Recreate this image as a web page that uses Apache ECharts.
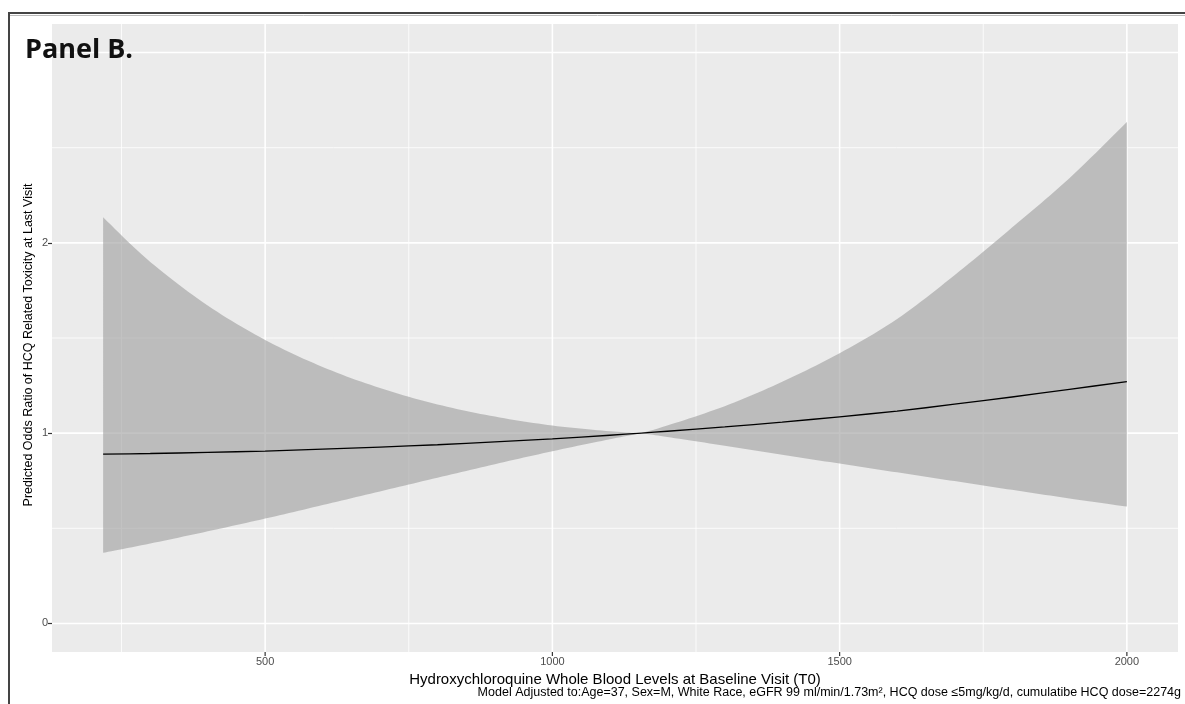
<!DOCTYPE html>
<html>
<head>
<meta charset="utf-8">
<script src="https://cdn.jsdelivr.net/npm/echarts@6/dist/echarts.min.js"></script>
<style>
  html, body { margin: 0; padding: 0; background: #ffffff; }
  #chart { width: 1185px; height: 704px; }
</style>
</head>
<body>
<div id="chart"></div>
<script>
// ---- data ----
const hcqLevel = [218, 300, 400, 500, 600, 700, 800, 900, 1000, 1100, 1155, 1200, 1300, 1400, 1500, 1600, 1700, 1800, 1900, 2000];
const oddsRatio = [0.890, 0.893, 0.899, 0.906, 0.916, 0.927, 0.939, 0.954, 0.970, 0.989, 1.000, 1.010, 1.033, 1.058, 1.086, 1.116, 1.152, 1.190, 1.230, 1.271];
const ciLower = [0.371, 0.420, 0.484, 0.551, 0.622, 0.694, 0.766, 0.837, 0.905, 0.968, 1.000, 0.980, 0.934, 0.887, 0.840, 0.794, 0.748, 0.702, 0.657, 0.614];
const ciUpper = [2.134, 1.900, 1.671, 1.490, 1.348, 1.237, 1.151, 1.087, 1.040, 1.010, 1.000, 1.040, 1.142, 1.270, 1.420, 1.600, 1.830, 2.080, 2.340, 2.635];
const pinchIndex = 10; // reference point where the interval collapses (OR = 1)

const xMajorTicks = [500, 1000, 1500, 2000];
const xMinorTicks = [250, 750, 1250, 1750];
const yMajorTicks = [0, 1, 2, 3];
const yLabelTicks = [0, 1, 2];
const yMinorTicks = [0.5, 1.5, 2.5];

const xRange = [129, 2089];
const yRange = [-0.15, 3.15];

const titleText = 'Panel B.';
const xAxisTitle = 'Hydroxychloroquine Whole Blood Levels at Baseline Visit (T0)';
const yAxisTitle = 'Predicted Odds Ratio of HCQ Related Toxicity at Last Visit';
const captionText = 'Model Adjusted to:Age=37, Sex=M, White Race, eGFR 99 ml/min/1.73m\u00B2, HCQ dose \u22645mg/kg/d, cumulatibe HCQ dose=2274g';

// ---- build series ----
const lineData = hcqLevel.map((x, i) => [x, oddsRatio[i]]);
const bandData = hcqLevel.map((x, i) => [x, ciLower[i], ciUpper[i]]);

const gridSeries = [];
function addGridLine(isVertical, v, width) {
  gridSeries.push({
    type: 'line',
    silent: true,
    symbol: 'none',
    z: 1,
    animation: false,
    lineStyle: { color: '#ffffff', width: width },
    data: isVertical ? [[v, yRange[0]], [v, yRange[1]]] : [[xRange[0], v], [xRange[1], v]]
  });
}
xMinorTicks.forEach(v => addGridLine(true, v, 0.8));
yMinorTicks.forEach(v => addGridLine(false, v, 0.8));
xMajorTicks.forEach(v => addGridLine(true, v, 1.6));
yMajorTicks.forEach(v => addGridLine(false, v, 1.6));

const chart = echarts.init(document.getElementById('chart'), null, { renderer: 'canvas' });
const labelFont = 'Liberation Sans, Arial, sans-serif';

// Catmull-Rom smoothing of pixel points (rendering only)
function smoothPixels(pts) {
  const out = [];
  const n = pts.length;
  for (let i = 0; i < n - 1; i++) {
    const p0 = pts[Math.max(i - 1, 0)], p1 = pts[i], p2 = pts[i + 1], p3 = pts[Math.min(i + 2, n - 1)];
    const c1 = [p1[0] + (p2[0] - p0[0]) / 6, p1[1] + (p2[1] - p0[1]) / 6];
    const c2 = [p2[0] - (p3[0] - p1[0]) / 6, p2[1] - (p3[1] - p1[1]) / 6];
    const steps = 12;
    for (let s = 0; s < steps; s++) {
      const t = s / steps, u = 1 - t;
      out.push([
        u * u * u * p1[0] + 3 * u * u * t * c1[0] + 3 * u * t * t * c2[0] + t * t * t * p2[0],
        u * u * u * p1[1] + 3 * u * u * t * c1[1] + 3 * u * t * t * c2[1] + t * t * t * p2[1]
      ]);
    }
  }
  out.push(pts[n - 1]);
  return out;
}

function renderBand(params, api) {
  if (params.dataIndex !== 0) return null;
  const up = bandData.map(d => api.coord([d[0], d[2]]));
  const lo = bandData.map(d => api.coord([d[0], d[1]]));
  const upL = smoothPixels(up.slice(0, pinchIndex + 1));
  const upR = smoothPixels(up.slice(pinchIndex));
  const loL = smoothPixels(lo.slice(0, pinchIndex + 1)).reverse();
  const loR = smoothPixels(lo.slice(pinchIndex)).reverse();
  const pts = upL.concat(upR.slice(1), loR, loL.slice(1));
  return {
    type: 'polygon',
    shape: { points: pts },
    style: { fill: 'rgba(163,163,163,0.65)', stroke: null }
  };
}

function renderXTick(params, api) {
  const p = api.coord([api.value(0), yRange[0]]);
  return {
    type: 'line',
    shape: { x1: p[0], y1: p[1], x2: p[0], y2: p[1] + 4 },
    style: { stroke: '#333333', lineWidth: 1.2 }
  };
}

chart.setOption({
  animation: false,
  backgroundColor: '#ffffff',
  grid: {
    left: 52, right: 7, top: 24, bottom: 52,
    show: true, backgroundColor: '#EBEBEB', borderWidth: 0
  },
  xAxis: {
    type: 'value',
    min: xRange[0], max: xRange[1],
    axisLine: { show: false },
    splitLine: { show: false },
    axisTick: { show: false },
    axisLabel: { customValues: xMajorTicks, formatter: v => String(v), color: '#4D4D4D', fontSize: 11, fontFamily: labelFont, margin: 4 },
    name: xAxisTitle,
    nameLocation: 'middle',
    nameGap: 12,
    nameTextStyle: { color: '#000000', fontSize: 15, fontFamily: labelFont }
  },
  yAxis: {
    type: 'value',
    min: yRange[0], max: yRange[1],
    axisLine: { show: false },
    splitLine: { show: false },
    axisTick: { show: true, customValues: yLabelTicks, length: 4, lineStyle: { color: '#333333', width: 1.2 } },
    axisLabel: { customValues: yLabelTicks, formatter: v => String(v), color: '#4D4D4D', fontSize: 11, fontFamily: labelFont, margin: 4 }
  },
  graphic: [
    { id: 'frameTop', type: 'line', shape: { x1: 8, y1: 13, x2: 1185, y2: 13 }, style: { stroke: '#444444', lineWidth: 2 }, z: 100 },
    { id: 'frameLeft', type: 'line', shape: { x1: 9, y1: 13, x2: 9, y2: 704 }, style: { stroke: '#444444', lineWidth: 2 }, z: 100 },
    { id: 'frameShade', type: 'line', shape: { x1: 10, y1: 15.5, x2: 1185, y2: 15.5 }, style: { stroke: '#bbbbbb', lineWidth: 1 }, z: 100 },
    {
      id: 'title', type: 'text', left: 25, top: 37, z: 100,
      style: { text: titleText, font: 'bold 27px "Open Sans", sans-serif', fill: '#111111' }
    },
    {
      id: 'yTitle', type: 'text', x: 29, y: 345, rotation: Math.PI / 2, z: 100,
      style: { text: yAxisTitle, font: '12.5px "Liberation Sans", Arial, sans-serif', fill: '#000000', align: 'center', verticalAlign: 'middle' }
    },
    {
      id: 'caption', type: 'text', right: 4, top: 686, z: 100,
      style: { text: captionText, font: '12.5px "Liberation Sans", Arial, sans-serif', fill: '#000000' }
    }
  ],
  series: gridSeries.concat([
    {
      type: 'custom', name: 'band', data: bandData,
      renderItem: renderBand, z: 2, silent: true,
      encode: { x: 0, y: [1, 2] }
    },
    {
      type: 'line', name: 'odds', data: lineData,
      symbol: 'none', smooth: 0.3, z: 3, silent: true,
      lineStyle: { color: '#000000', width: 1.3 }
    },
    {
      type: 'custom', name: 'xticks', data: xMajorTicks.map(v => [v, yRange[0]]),
      renderItem: renderXTick, z: 5, silent: true, clip: false,
      encode: { x: 0, y: 1 }
    }
  ])
});
</script>
</body>
</html>
